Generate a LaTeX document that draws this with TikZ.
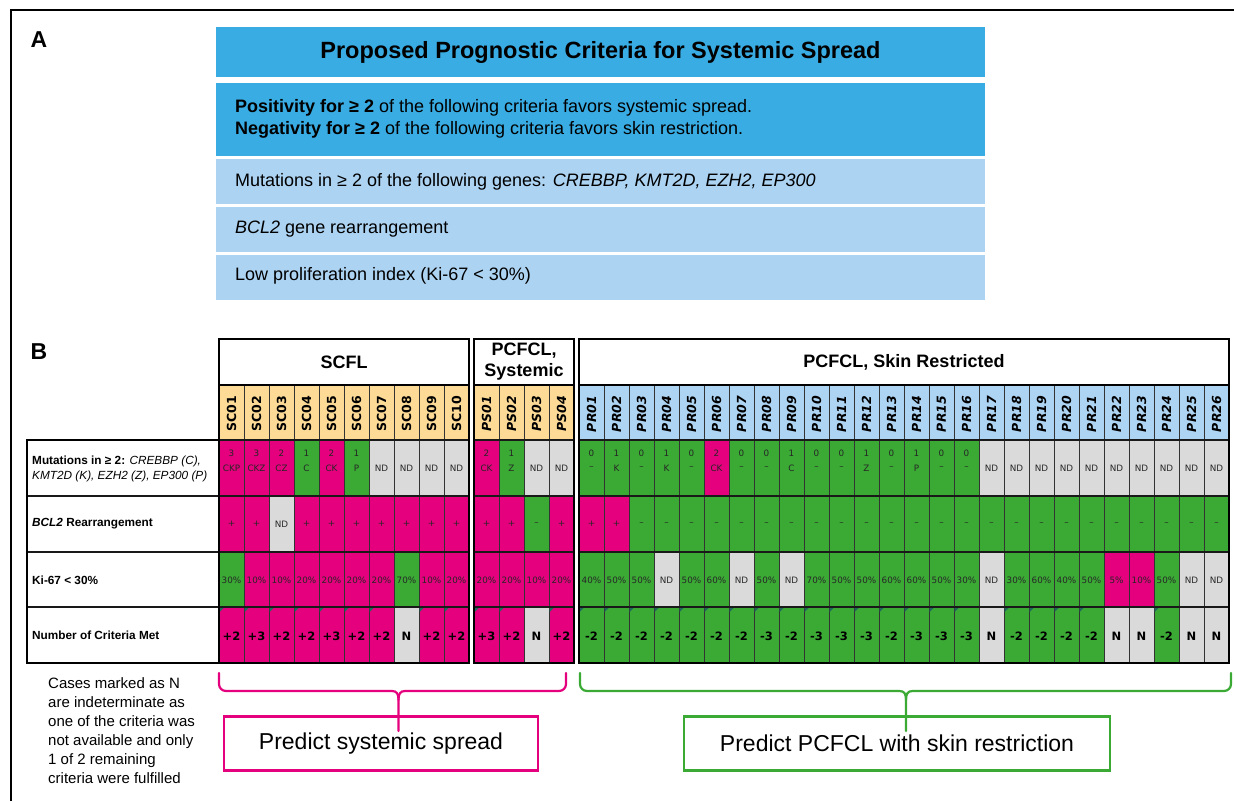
\documentclass[tikz,border=0pt]{standalone}
\usepackage{fontspec}
\setmainfont{Liberation Sans}
\newfontfamily\dvs{DejaVu Sans}
\definecolor{tblue}{HTML}{39ACE3}
\definecolor{lblue}{HTML}{ADD3F2}
\definecolor{mag}{HTML}{E5007D}
\definecolor{grn}{HTML}{3BAA35}
\definecolor{gry}{HTML}{DADADA}
\definecolor{org}{HTML}{FDDB97}
\definecolor{idblue}{HTML}{AED4F3}
\definecolor{tealm}{HTML}{1E6B5C}
\newcommand{\fsz}[1]{\fontsize{#1}{#1}\selectfont}
\tikzset{
  abox/.style={fill=#1, minimum width=769pt, inner sep=0pt, outer sep=0pt},
  cell/.style={draw=black!80, line width=0.7pt, minimum width=25pt, inner sep=0pt, outer sep=0pt},
  small/.style={font=\dvs\fsz{8.8}, text=black!85, inner sep=0pt},
  big/.style={font=\dvs\bfseries\fsz{11.5}, inner sep=0pt},
  hdr/.style={draw=black, line width=1.8pt, fill=white, inner sep=0pt, align=center},
  lab/.style={anchor=west, inner sep=0pt, align=left},
  labcell/.style={draw=black!80, line width=0.7pt, fill=white, minimum width=192pt, inner sep=0pt, outer sep=0pt},
  grp/.style={draw=black, line width=1.8pt},
  rowsep/.style={draw=black!90, line width=1.4pt},
  pbox/.style={line width=2.2pt, inner sep=0pt, minimum height=54pt, font=\fsz{23}},
  brace/.style={line width=2.2pt, line join=round, line cap=round},
}
\newcommand{\drawgroup}[4]{%
 \foreach \id/\ca/\na/\la/\cb/\tb/\cc/\tc/\cd/\td/\tr [count=\i from 0] in {#4} {
   \pgfmathsetmacro\xc{#1+12.5+25*\i}
   \node[cell, fill=#2, minimum height=55pt] (\id-id) at (\xc,412.5) {};
   \node[font=\dvs\bfseries#3\fsz{12.5}, rotate=90, inner sep=0pt] (\id-t) at (\xc,414) {\id};
   \node[cell, fill=\ca, minimum height=56pt] (\id-1) at (\xc,468) {};
   \node[small] (\id-1n) at (\xc,453) {\na};
   \node[small] (\id-1l) at (\xc,468) {\la};
   \node[cell, fill=\cb, minimum height=56pt] (\id-2) at (\xc,524) {};
   \node[small] (\id-2t) at (\xc,524) {\tb};
   \node[cell, fill=\cc, minimum height=55pt] (\id-3) at (\xc,579.5) {};
   \node[small] (\id-3t) at (\xc,580) {\tc};
   \node[cell, fill=\cd, minimum height=56pt] (\id-4) at (\xc,635) {};
   \node[big] (\id-4t) at (\xc,636) {\td};
   \ifnum\tr=1 \fill[tealm] (\id-4.north west) ++(0.6,0.6) -- ++(4.5,0) -- ++(-4.5,4.5) -- cycle;\fi
 }}
\begin{document}
\begin{tikzpicture}[x=1pt,y=-1pt]
\useasboundingbox[fill=white] (0,0) rectangle (1234,801);
% outer frame
\draw[line width=2.2pt] (11,801) -- (11,10) -- (1234,10);
% Panel A
\node[font=\bfseries\fsz{23}, inner sep=0pt] (labA) at (39,40) {A};
\node[abox=tblue, minimum height=50pt, font=\bfseries\fsz{23.5}] (title) at (600.5,52) {Proposed Prognostic Criteria for Systemic Spread};
\node[abox=tblue, minimum height=73pt] (rule) at (600.5,119.5) {};
\node[lab, font=\fontsize{18}{22.5}\selectfont] (ruletxt) at (235,119) {\textbf{Positivity for ≥ 2} of the following criteria favors systemic spread.\\\textbf{Negativity for ≥ 2} of the following criteria favors skin restriction.};
\node[abox=lblue, minimum height=45pt] (c1) at (600.5,181.5) {};
\node[lab, font=\fsz{18}] (c1t) at (235,182) {Mutations in ≥ 2 of the following genes: \textit{CREBBP, KMT2D, EZH2, EP300}};
\node[abox=lblue, minimum height=45pt] (c2) at (600.5,229.5) {};
\node[lab, font=\fsz{18}] (c2t) at (235,229) {\textit{BCL2} gene rearrangement};
\node[abox=lblue, minimum height=45pt] (c3) at (600.5,277) {};
\node[lab, font=\fsz{18}] (c3t) at (235,276) {Low proliferation index (Ki-67 < 30\%)};
% Panel B
\node[font=\bfseries\fsz{23}, inner sep=0pt] (labB) at (39,352) {B};
\node[hdr, minimum width=250pt, minimum height=46pt, font=\bfseries\fsz{18}] (hSC) at (344,362) {SCFL};
\node[hdr, minimum width=100pt, minimum height=46pt, font=\bfseries\fontsize{18}{21}\selectfont] (hPS) at (524,362) {PCFCL,\\Systemic};
\node[hdr, minimum width=650pt, minimum height=46pt, font=\bfseries\fsz{18}] (hPR) at (904,362) {PCFCL, Skin Restricted};
% label column
\node[labcell, minimum height=56pt] (lab1) at (123,468) {};
\node[lab, font=\fontsize{11.8}{14.5}\selectfont] (lab1t) at (32,469) {\textbf{Mutations in ≥ 2:} \textit{CREBBP (C),}\\\textit{KMT2D (K), EZH2 (Z), EP300 (P)}};
\node[labcell, minimum height=56pt] (lab2) at (123,524) {};
\node[lab, font=\bfseries\fsz{11.8}] (lab2t) at (32,524) {\textit{BCL2} Rearrangement};
\node[labcell, minimum height=55pt] (lab3) at (123,579.5) {};
\node[lab, font=\bfseries\fsz{11.8}] (lab3t) at (32,580) {Ki-67 < 30\%};
\node[labcell, minimum height=56pt] (lab4) at (123,635) {};
\node[lab, font=\bfseries\fsz{11.8}] (lab4t) at (32,635) {Number of Criteria Met};
% data
\drawgroup{219}{org}{}{
SC01/mag/3/CKP/mag/+/grn/30\%/mag/+2/1,
SC02/mag/3/CKZ/mag/+/mag/10\%/mag/+3/1,
SC03/mag/2/CZ/gry/ND/mag/10\%/mag/+2/1,
SC04/grn/1/C/mag/+/mag/20\%/mag/+2/1,
SC05/mag/2/CK/mag/+/mag/20\%/mag/+3/1,
SC06/grn/1/P/mag/+/mag/20\%/mag/+2/1,
SC07/gry/{}/ND/mag/+/mag/20\%/mag/+2/1,
SC08/gry/{}/ND/mag/+/grn/70\%/gry/N/0,
SC09/gry/{}/ND/mag/+/mag/10\%/mag/+2/1,
SC10/gry/{}/ND/mag/+/mag/20\%/mag/+2/1}
\drawgroup{474}{org}{\itshape}{
PS01/mag/2/CK/mag/+/mag/20\%/mag/+3/1,
PS02/grn/1/Z/mag/+/mag/20\%/mag/+2/1,
PS03/gry/{}/ND/grn/–/mag/10\%/gry/N/0,
PS04/gry/{}/ND/mag/+/mag/20\%/mag/+2/1}
\drawgroup{579}{idblue}{\itshape}{
PR01/grn/0/–/mag/+/grn/40\%/grn/-2/1,
PR02/grn/1/K/mag/+/grn/50\%/grn/-2/1,
PR03/grn/0/–/grn/–/grn/50\%/grn/-2/1,
PR04/grn/1/K/grn/–/gry/ND/grn/-2/1,
PR05/grn/0/–/grn/–/grn/50\%/grn/-2/1,
PR06/mag/2/CK/grn/–/grn/60\%/grn/-2/1,
PR07/grn/0/–/grn/–/gry/ND/grn/-2/1,
PR08/grn/0/–/grn/–/grn/50\%/grn/-3/1,
PR09/grn/1/C/grn/–/gry/ND/grn/-2/1,
PR10/grn/0/–/grn/–/grn/70\%/grn/-3/1,
PR11/grn/0/–/grn/–/grn/50\%/grn/-3/1,
PR12/grn/1/Z/grn/–/grn/50\%/grn/-3/1,
PR13/grn/0/–/grn/–/grn/60\%/grn/-2/1,
PR14/grn/1/P/grn/–/grn/60\%/grn/-3/1,
PR15/grn/0/–/grn/–/grn/50\%/grn/-3/1,
PR16/grn/0/–/grn/–/grn/30\%/grn/-3/1,
PR17/gry/{}/ND/grn/–/gry/ND/gry/N/0,
PR18/gry/{}/ND/grn/–/grn/30\%/grn/-2/1,
PR19/gry/{}/ND/grn/–/grn/60\%/grn/-2/1,
PR20/gry/{}/ND/grn/–/grn/40\%/grn/-2/1,
PR21/gry/{}/ND/grn/–/grn/50\%/grn/-2/1,
PR22/gry/{}/ND/grn/–/mag/5\%/gry/N/0,
PR23/gry/{}/ND/grn/–/mag/10\%/gry/N/0,
PR24/gry/{}/ND/grn/–/grn/50\%/grn/-2/1,
PR25/gry/{}/ND/grn/–/gry/ND/gry/N/0,
PR26/gry/{}/ND/grn/–/gry/ND/gry/N/0}
% row separators
\foreach \r in {1,2,3} {
  \draw[rowsep] (lab\r.south west) -- (SC10-\r.south east);
  \draw[rowsep] (PS01-\r.south west) -- (PS04-\r.south east);
  \draw[rowsep] (PR01-\r.south west) -- (PR26-\r.south east);
}
\draw[rowsep] (lab1.north west) -- (SC10-1.north east);
\draw[rowsep] (PS01-1.north west) -- (PS04-1.north east);
\draw[rowsep] (PR01-1.north west) -- (PR26-1.north east);
% group outlines
\draw[grp] (SC01-id.north west) rectangle (SC10-4.south east);
\draw[grp] (PS01-id.north west) rectangle (PS04-4.south east);
\draw[grp] (PR01-id.north west) rectangle (PR26-4.south east);
\draw[grp] (lab1.north west) rectangle (lab4.south east);
% note
\node[anchor=north west, inner sep=0pt, align=left, font=\fontsize{15}{19}\selectfont] (note) at (48,677) {Cases marked as N\\are indeterminate as\\one of the criteria was\\not available and only\\1 of 2 remaining\\criteria were fulfilled};
% predict boxes
\node[pbox, draw=mag, minimum width=314pt] (pss) at (381,743.5) {Predict systemic spread};
\node[pbox, draw=grn, minimum width=426pt] (pcs) at (897,743.5) {Predict PCFCL with skin restriction};
% braces
\coordinate (m0) at (398.5,731);
\coordinate (g0) at (906,731);
\draw[brace, mag] (219,673) -- (219,684) to[out=-90,in=180] (226,691) -- (392,691) .. controls (397,691) and (398.5,694) .. (398.5,700) -- (m0);
\draw[brace, mag] (566,673) -- (566,684) to[out=-90,in=0] (559,691) -- (405,691) .. controls (400,691) and (398.5,694) .. (398.5,700);
\draw[brace, grn] (580,673) -- (580,684) to[out=-90,in=180] (587,691) -- (899.5,691) .. controls (904.5,691) and (906,694) .. (906,700) -- (g0);
\draw[brace, grn] (1231,673) -- (1231,684) to[out=-90,in=0] (1224,691) -- (912.5,691) .. controls (907.5,691) and (906,694) .. (906,700);
\end{tikzpicture}
\end{document}
